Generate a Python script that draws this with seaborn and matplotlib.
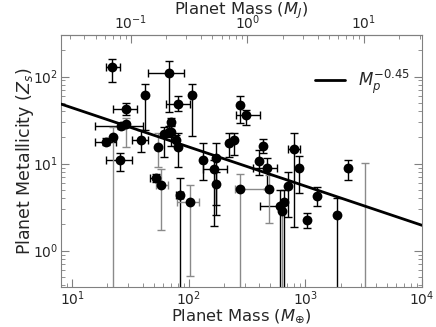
import numpy as np
import pandas as pd
import matplotlib
matplotlib.use("Agg")
import matplotlib.pyplot as plt
import seaborn as sns

# --- Data (masses in Earth masses, Z_s metallicity) ---
mass = [22.0, 67, 42, 80, 106, 29, 25.9, 29, 22.4, 19.3,
        38.5, 54.5, 60.8, 67, 70.8, 70.4, 78.1, 80.2, 25.6, 51.7,
        57.8, 83.4, 102, 132, 172, 163, 171, 222, 245, 276,
        311, 272, 430, 396, 467, 489, 715, 805, 883, 599,
        648, 628, 1028, 1267, 1858, 2336, 3243]
mass_lo = [19.3, 45, np.nan, 64, np.nan, 22.4, 15.8, np.nan, np.nan, 15.8,
           32.2, np.nan, np.nan, np.nan, np.nan, np.nan, np.nan, np.nan, 19.3, 46.8,
           51.7, 78.2, 79.8, np.nan, np.nan, 131, np.nan, np.nan, np.nan, np.nan,
           255, np.nan, np.nan, np.nan, 356, 250, np.nan, 711, np.nan, 410,
           np.nan, np.nan, np.nan, np.nan, np.nan, np.nan, np.nan]
mass_hi = [25.6, 90, np.nan, 103, np.nan, 35.6, 40.7, np.nan, np.nan, 23.5,
           45, np.nan, np.nan, np.nan, np.nan, np.nan, np.nan, np.nan, 32.8, 55.8,
           66.8, 89.8, 123, np.nan, np.nan, 214, np.nan, np.nan, np.nan, np.nan,
           404, np.nan, np.nan, np.nan, 572, 510, np.nan, 902, np.nan, 610,
           np.nan, np.nan, np.nan, np.nan, np.nan, np.nan, np.nan]
metal = [130, 110, 61, 48.7, 61, 42.7, 27.1, 28.6, 20.4, 17.9,
         18.7, 15.6, 21.9, 23.3, 23.3, 29.9, 18.5, 15.6, 10.9, 6.74,
         5.64, 4.32, 3.61, 11.1, 11.7, 8.75, 5.75, 17.3, 18.4, 47.5,
         35.7, 5.03, 15.9, 10.8, 8.82, 5.03, 5.5, 14.7, 8.82, 3.23,
         3.61, 2.86, 2.26, 4.27, 2.59, 8.94, 0.1]
metal_lo = [87.5, 39.4, 24.4, 39.7, 20.8, 36.4, 25, 15.4, 0.01, 16.5,
            13.7, 9.1, 12.0, 20, 16, 27, 16, 9.1, 8.2, 6.2,
            1.70, 0.01, 0.51, 6.45, 3.31, 1.89, 2.54, 11.9, 12.5, 29.4,
            27.9, 0.01, 13.2, 7.36, 5.07, 2.05, 2.41, 1.85, 4.56, 0.01,
            0.01, 0.01, 1.80, 3.23, 0.01, 6.45, 0.01]
metal_hi = [161, 149, 83, 59.2, 83, 50, 29.5, 33.6, 26.4, 19.5,
            24.4, 22.5, 26, 27, 28, 33, 21, 22.5, 13.2, 7.5,
            8.64, 6.8, 5.64, 17.3, 17.1, 11, 8, 22.5, 22.5, 60.3,
            41.5, 7.56, 19.2, 14.3, 11.6, 7.36, 7.97, 22.5, 12.2, 4.94,
            5.0, 3.5, 2.68, 5.35, 3.99, 11.0, 10.2]
# which error bars are drawn in grey rather than black
grey_bar = [0, 0, 0, 0, 0, 0, 0, 1, 1, 0,
            0, 1, 0, 0, 0, 0, 0, 0, 0, 0,
            1, 0, 1, 0, 0, 0, 0, 0, 0, 0,
            0, 1, 0, 0, 0, 1, 0, 0, 0, 0,
            0, 1, 0, 0, 0, 0, 1]
jupiter_ticks = [0.1, 1, 10]

# fit shown in the legend
fit_norm = 123.0
fit_index = -0.45
earth_per_jupiter = 317.8

df = pd.DataFrame({'mass': mass, 'mass_lo': mass_lo, 'mass_hi': mass_hi,
                   'metal': metal, 'metal_lo': metal_lo, 'metal_hi': metal_hi,
                   'grey': grey_bar})

sns.set_style("ticks")
plt.rcParams['font.family'] = ['DejaVu Sans']

fig = plt.figure(figsize=(4.36, 3.27), dpi=100)
ax = fig.add_axes([0.140, 0.122, 0.828, 0.771])

# error bars
for is_grey, sub in df.groupby('grey'):
    xerr = np.vstack([(sub['mass'] - sub['mass_lo']).fillna(0),
                      (sub['mass_hi'] - sub['mass']).fillna(0)])
    yerr = np.vstack([sub['metal'] - sub['metal_lo'], sub['metal_hi'] - sub['metal']])
    ax.errorbar(sub['mass'], sub['metal'], xerr=xerr, yerr=yerr, fmt='none',
                ecolor='#8a8a8a' if is_grey else 'black', elinewidth=1.0,
                capsize=3, capthick=1.0, zorder=2)

sns.scatterplot(data=df, x='mass', y='metal', color='black', s=50,
                edgecolor='black', linewidth=0, zorder=3, ax=ax)

m_fit = np.logspace(np.log10(8), 4, 100)
fit_df = pd.DataFrame({'mass': m_fit, 'metal': fit_norm * m_fit ** fit_index})
sns.lineplot(data=fit_df, x='mass', y='metal', color='black', lw=2.0,
             label=r'$M_p^{-0.45}$', zorder=4, ax=ax)

ax.set_xscale('log')
ax.set_yscale('log')
ax.set_xlim(8, 1e4)
ax.set_ylim(0.38, 300)

ax.set_xlabel(r'Planet Mass ($M_{\oplus}$)', fontsize=11.8, labelpad=-1)
ax.set_ylabel(r'Planet Metallicity ($Z_s$)', fontsize=12.5, labelpad=-2)

edge = '#808080'
for sp in ax.spines.values():
    sp.set_color(edge)
ax.tick_params(which='both', direction='in', top=False, right=True,
               color=edge, labelsize=10, pad=2)
ax.tick_params(which='major', length=6)
ax.tick_params(which='minor', length=3)

secax = ax.secondary_xaxis('top', functions=(lambda m: m / earth_per_jupiter,
                                             lambda j: j * earth_per_jupiter))
secax.set_xscale('log')
secax.set_xticks(jupiter_ticks)
secax.tick_params(which='both', direction='in', color=edge, labelsize=10, pad=2)
secax.tick_params(which='major', length=6)
secax.tick_params(which='minor', length=3)
secax.spines['top'].set_color(edge)
secax.set_xlabel(r'Planet Mass ($M_J$)', fontsize=11.8, labelpad=-0.5)

ax.legend(loc='upper right', frameon=False, fontsize=12, handlelength=1.8,
          bbox_to_anchor=(1.01, 0.93))

fig.savefig('out.png', dpi=100)
